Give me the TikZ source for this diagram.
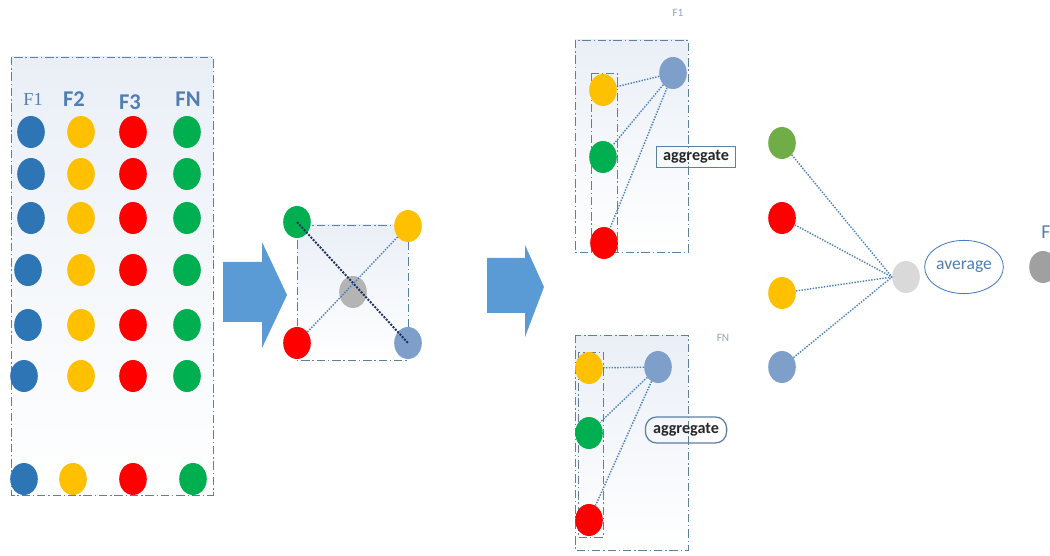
\documentclass[tikz,border=0pt]{standalone}
\usepackage{fontspec}
\setsansfont{Carlito}
\newfontfamily\serifone{Liberation Serif}
\definecolor{DotBlue}{HTML}{2E75B6}
\definecolor{DotYellow}{HTML}{FFC000}
\definecolor{DotRed}{HTML}{FF0000}
\definecolor{DotGreen}{HTML}{00B050}
\definecolor{DotOlive}{HTML}{70AD47}
\definecolor{DotSteel}{HTML}{7F9FCB}
\definecolor{DotGrey}{HTML}{B4B4B4}
\definecolor{DotPale}{HTML}{D9D9D9}
\definecolor{DotDark}{HTML}{A0A0A0}
\definecolor{ArrowBlue}{HTML}{5B9BD5}
\definecolor{LabelBlue}{HTML}{4F7DB4}
\definecolor{SmallLabel}{HTML}{8FA3B8}
\definecolor{FrameGray}{HTML}{5F7F9F}
\definecolor{PanelTint}{HTML}{EAEFF7}
\definecolor{LinkBlue}{HTML}{4A7EBB}
\definecolor{LinkDark}{HTML}{1F2F5F}
\definecolor{BoxText}{HTML}{262626}
\usetikzlibrary{shapes.geometric,positioning}

\begin{document}
\begin{tikzpicture}[x=0.025cm, y=-0.025cm,
    dot/.style={ellipse, minimum width=0.69cm, minimum height=0.8cm, inner sep=0pt},
    panel/.style={draw=FrameGray, line width=0.6pt,
                  dash pattern=on 6pt off 2pt on 1pt off 2pt,
                  top color=PanelTint, bottom color=white},
    inbox/.style={draw=FrameGray, line width=0.6pt,
                  dash pattern=on 6pt off 2pt on 1pt off 2pt},
    link/.style={densely dotted, line width=1pt, LinkBlue},
    collab/.style={font=\sffamily\bfseries\fontsize{16}{18}\selectfont, text=LabelBlue},
    tinylab/.style={font=\sffamily\fontsize{8}{10}\selectfont, text=SmallLabel},
    aggbox/.style={draw=FrameGray, line width=0.9pt, minimum width=1.98cm,
                   minimum height=0.53cm, inner sep=1pt,
                   font=\sffamily\bfseries\fontsize{11.5}{13}\selectfont, text=BoxText},
    every node/.style={font=\sffamily}]

  \useasboundingbox (0,0) rectangle (1050,556);
  \clip (0,0) rectangle (1050,556);

  % feature columns
  \path[panel] (11,57) rectangle (213,495);
  \node[text=LabelBlue, font=\serifone\fontsize{13}{15}\selectfont] (labf1) at (33,99) {F1};
  \node[collab] (labf2) at (74,99) {F2};
  \node[collab] (labf3) at (130,102) {F3};
  \node[collab] (labfn) at (188,99) {FN};
  \foreach \r/\y/\xb/\xy/\xr/\xg in {1/132/31/81/133/187, 2/174/31/81/133/187,
      3/218/31/81/133/187, 4/270/28/81/133/187, 5/325/28/81/133/187,
      6/376/24/81/133/187, 7/479/24/73/133/193}
  {
    \node[dot, fill=DotBlue]   (b\r) at (\xb,\y) {};
    \node[dot, fill=DotYellow] (y\r) at (\xy,\y) {};
    \node[dot, fill=DotRed]    (r\r) at (\xr,\y) {};
    \node[dot, fill=DotGreen]  (g\r) at (\xg,\y) {};
  }

  % first arrow
  \fill[ArrowBlue] (223,262) -- (262,262) -- (262,242) -- (287,295)
    -- (262,348) -- (262,322) -- (223,322) -- cycle;

  % pair square
  \path[panel] (297,225) rectangle (408,360);
  \node[dot, fill=DotGreen]  (sqg) at (297,222) {};
  \node[dot, fill=DotYellow] (sqy) at (408,226) {};
  \node[dot, fill=DotGrey]   (sqc) at (353,292) {};
  \node[dot, fill=DotRed]    (sqr) at (297,343) {};
  \node[dot, fill=DotSteel]  (sqb) at (408,343) {};
  \draw[densely dotted, line width=1.4pt, LinkDark] (sqg.center) -- (sqb.center);
  \draw[link] (sqy) -- (sqr);

  % second arrow
  \fill[ArrowBlue] (487,258) -- (525,258) -- (525,245) -- (544,287)
    -- (525,337) -- (525,313) -- (487,313) -- cycle;

  % aggregation for F1
  \node[tinylab] (tf1) at (678,13) {F1};
  \path[panel] (575,40) rectangle (688,252);
  \draw[inbox] (591,73) rectangle (617,252);
  \node[dot, fill=DotYellow] (ay) at (603,90) {};
  \node[dot, fill=DotGreen]  (ag) at (603,157) {};
  \node[dot, fill=DotRed]    (ar) at (604,243) {};
  \node[dot, fill=DotSteel]  (ab) at (673,73) {};
  \foreach \src in {ay, ag, ar}
    \draw[link] (ab) -- (\src);
  \node[aggbox] (agg1) at (696,157) {aggregate};

  % aggregation for FN
  \node[tinylab] (tfn) at (723,338) {FN};
  \path[panel] (575,335) rectangle (688,550);
  \draw[inbox] (578,352) rectangle (603,537);
  \node[dot, fill=DotYellow] (ny) at (589,368) {};
  \node[dot, fill=DotGreen]  (ng) at (589,433) {};
  \node[dot, fill=DotRed]    (nr) at (589,520) {};
  \node[dot, fill=DotSteel]  (nb) at (658,367) {};
  \foreach \src in {ny, ng, nr}
    \draw[link] (nb) -- (\src);
  \node[aggbox, rounded corners=8pt, minimum width=2.03cm, minimum height=0.65cm]
    (agg2) at (686,430) {aggregate};

  % averaging
  \node[dot, fill=DotOlive]  (vg) at (782,143) {};
  \node[dot, fill=DotRed]    (vr) at (782,218) {};
  \node[dot, fill=DotYellow] (vy) at (782,293) {};
  \node[dot, fill=DotSteel]  (vb) at (782,367) {};
  \node[dot, fill=DotPale]   (avg) at (906,277) {};
  \foreach \src in {vg, vr, vy, vb}
    \draw[link] (\src) -- (avg.west);
  \node[ellipse, draw=LinkBlue, line width=0.6pt, minimum width=1.95cm,
        minimum height=1.33cm, inner sep=0pt, text=LabelBlue,
        font=\sffamily\fontsize{12.5}{14}\selectfont] (avgtxt) at (964,267) {average};
  \node[dot, fill=DotDark] (fout) at (1043,267) {};
  \node[text=LabelBlue, font=\sffamily\fontsize{14}{16}\selectfont] (fout lab)
    at (1046,232) {F};
\end{tikzpicture}
\end{document}
